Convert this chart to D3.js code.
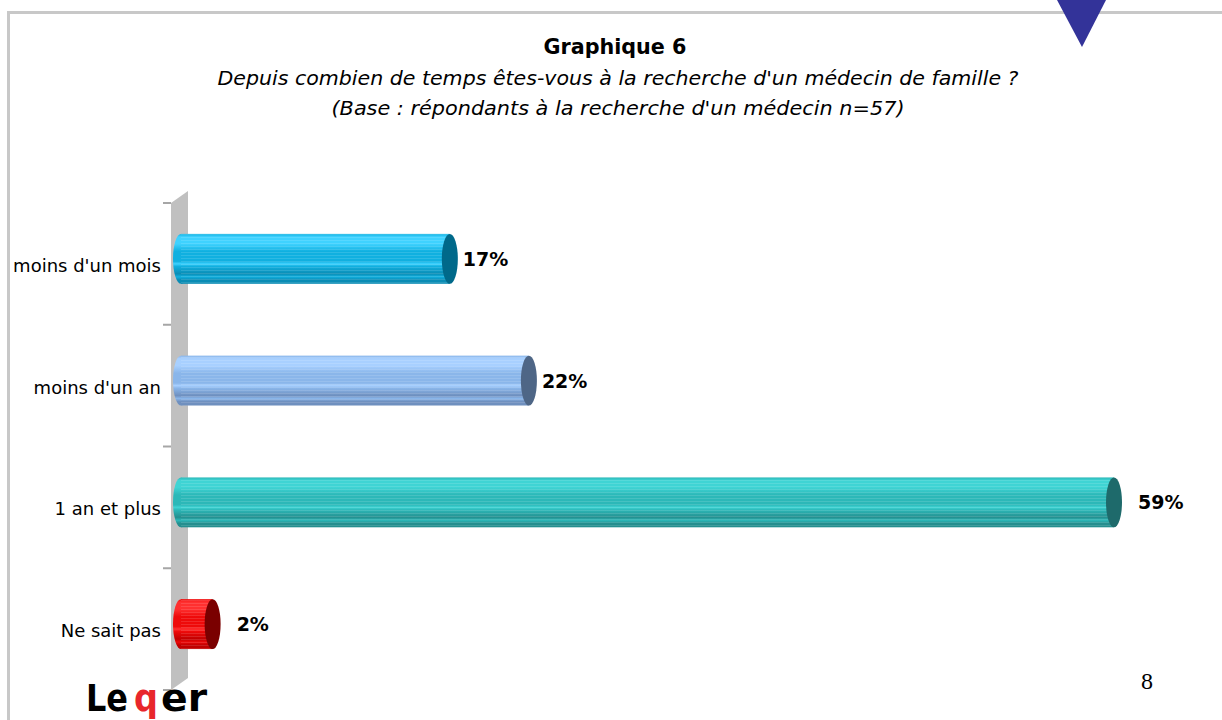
<!DOCTYPE html>
<html>
<head>
<meta charset="utf-8">
<script src="https://cdn.jsdelivr.net/npm/d3@7"></script>
<style>
  html, body { margin: 0; padding: 0; background: #fff; }
  svg { display: block; }
</style>
</head>
<body>
<svg id="chart" width="1222" height="720"></svg>
<script>
const categories = ["moins d'un mois", "moins d'un an", "1 an et plus", "Ne sait pas"];
const values = [17, 22, 59, 2];
const valueLabels = ["17%", "22%", "59%", "2%"];
const titleText = "Graphique 6";
const subtitleLines = ["Depuis combien de temps êtes-vous à la recherche d'un médecin de famille ?",
                       "(Base :  répondants à la recherche d'un médecin n=57)"];
const pageNumber = "8";
const logoParts = ["Le", "q", "er"];

const palettes = [
  { top: "#3fd2ff", mid: "#10b0e0", bot: "#0a8cb4", cap: "#00698a" },
  { top: "#a8d0ff", mid: "#8ab6ea", bot: "#6f90bf", cap: "#4e6686" },
  { top: "#3fd4d4", mid: "#2cb8b8", bot: "#258f8f", cap: "#1e6a6b" },
  { top: "#ff3030", mid: "#ee0a0a", bot: "#c00000", cap: "#7a0000" }
];

const svg = d3.select("#chart");
const defs = svg.append("defs");

// Frame
svg.append("line").attr("x1", 8).attr("x2", 1222).attr("y1", 12.5).attr("y2", 12.5)
  .attr("stroke", "#c8c8c8").attr("stroke-width", 3);
svg.append("line").attr("x1", 8.5).attr("x2", 8.5).attr("y1", 11).attr("y2", 720)
  .attr("stroke", "#c8c8c8").attr("stroke-width", 3);

// Triangle marker
svg.append("path").attr("d", "M1057,0 L1106,0 L1082,47 Z").attr("fill", "#333399");

// Titles
svg.append("text").attr("x", 615).attr("y", 54).attr("text-anchor", "middle")
  .attr("font-family", "DejaVu Sans").attr("font-weight", "bold").attr("font-size", 21)
  .attr("textLength", 143).attr("lengthAdjust", "spacingAndGlyphs")
  .attr("fill", "#000").text(titleText);
subtitleLines.forEach((t, i) => {
  svg.append("text").attr("x", 618).attr("y", 85 + i * 30).attr("text-anchor", "middle")
    .attr("font-family", "DejaVu Sans").attr("font-style", "italic").attr("font-size", 19)
    .attr("textLength", i === 0 ? 801 : 573).attr("lengthAdjust", "spacingAndGlyphs")
    .attr("fill", "#000").text(t);
});

// Scales
const x = d3.scaleLinear().domain([0, 59]).range([181, 1114]);
const y = d3.scaleBand().domain(categories).range([203, 690])
  .paddingInner(0.59).paddingOuter(0.295).align(0.43);
const bw = y.bandwidth();
const rx = 8;

// Wall (3D axis)
const wallTop = 203, wallBot = 690, depth = 12;
svg.append("path")
  .attr("d", `M171,${wallTop} L188,${wallTop - depth} L188,${wallBot - depth} L171,${wallBot} Z`)
  .attr("fill", "#c0c0c0");

// Ticks at category boundaries
const tickYs = d3.range(categories.length + 1).map(i => wallTop + i * (wallBot - wallTop) / categories.length);
svg.selectAll(".tick").data(tickYs).enter().append("line")
  .attr("x1", 163).attr("x2", 171).attr("y1", d => d).attr("y2", d => d)
  .attr("stroke", "#a6a6a6").attr("stroke-width", 2);

// Category labels
svg.selectAll(".cat").data(categories).enter().append("text")
  .attr("x", 161).attr("y", d => y(d) + bw / 2 + 13)
  .attr("text-anchor", "end").attr("font-family", "DejaVu Sans").attr("font-size", 18)
  .attr("fill", "#000").text(d => d);

// Gradients
palettes.forEach((p, i) => {
  const g = defs.append("linearGradient").attr("id", "g" + i)
    .attr("x1", 0).attr("x2", 0).attr("y1", 0).attr("y2", 1);
  const stops = [
    [0, p.mid], [0.06, p.top], [0.2, p.top], [0.35, p.mid], [0.55, p.mid], [0.6, p.top],
    [0.65, p.mid], [0.8, p.bot], [0.86, p.mid], [0.92, p.bot], [1, p.bot]
  ];
  stops.forEach(s => g.append("stop").attr("offset", s[0]).attr("stop-color", s[1]));
});

// Stripe pattern
const pat = defs.append("pattern").attr("id", "stripes").attr("patternUnits", "userSpaceOnUse")
  .attr("width", 10).attr("height", 3);
pat.append("rect").attr("width", 10).attr("height", 1).attr("fill", "#ffffff").attr("opacity", 0.12);

// Bars
const data = categories.map((c, i) => ({ c, v: values[i], label: valueLabels[i], i }));
const bars = svg.selectAll(".bar").data(data).enter().append("g");
bars.append("ellipse")
  .attr("cx", x(0)).attr("cy", d => y(d.c) + bw / 2).attr("rx", rx).attr("ry", bw / 2)
  .attr("fill", d => `url(#g${d.i})`);
bars.append("rect")
  .attr("x", x(0)).attr("y", d => y(d.c)).attr("width", d => x(d.v) - x(0)).attr("height", bw)
  .attr("fill", d => `url(#g${d.i})`);
bars.append("rect")
  .attr("x", x(0)).attr("y", d => y(d.c)).attr("width", d => x(d.v) - x(0)).attr("height", bw)
  .attr("fill", "url(#stripes)");
bars.append("ellipse")
  .attr("cx", d => x(d.v)).attr("cy", d => y(d.c) + bw / 2).attr("rx", rx).attr("ry", bw / 2)
  .attr("fill", d => palettes[d.i].cap);

// Value labels
bars.append("text")
  .attr("x", d => x(d.v) + ((d.v > 50 || d.v < 5) ? 24 : 13)).attr("y", d => y(d.c) + bw / 2 + 7)
  .attr("font-family", "DejaVu Sans").attr("font-weight", "bold").attr("font-size", 19)
  .attr("fill", "#000").text(d => d.label);

// Page number
svg.append("text").attr("x", 1147).attr("y", 689).attr("text-anchor", "middle")
  .attr("font-family", "Liberation Serif").attr("font-size", 24).attr("fill", "#000").text(pageNumber);

// Logo (separate text pieces)
const logoX = [86, 134, 161];
const logoW = [42, 24, 46];
const logoC = ["#000", "#e8262b", "#000"];
logoParts.forEach((t, i) => {
  svg.append("text").attr("x", logoX[i]).attr("y", 711)
    .attr("font-family", "DejaVu Sans").attr("font-weight", "bold").attr("font-size", 37)
    .attr("textLength", logoW[i]).attr("lengthAdjust", "spacingAndGlyphs")
    .attr("fill", logoC[i]).text(t);
});
</script>
</body>
</html>
